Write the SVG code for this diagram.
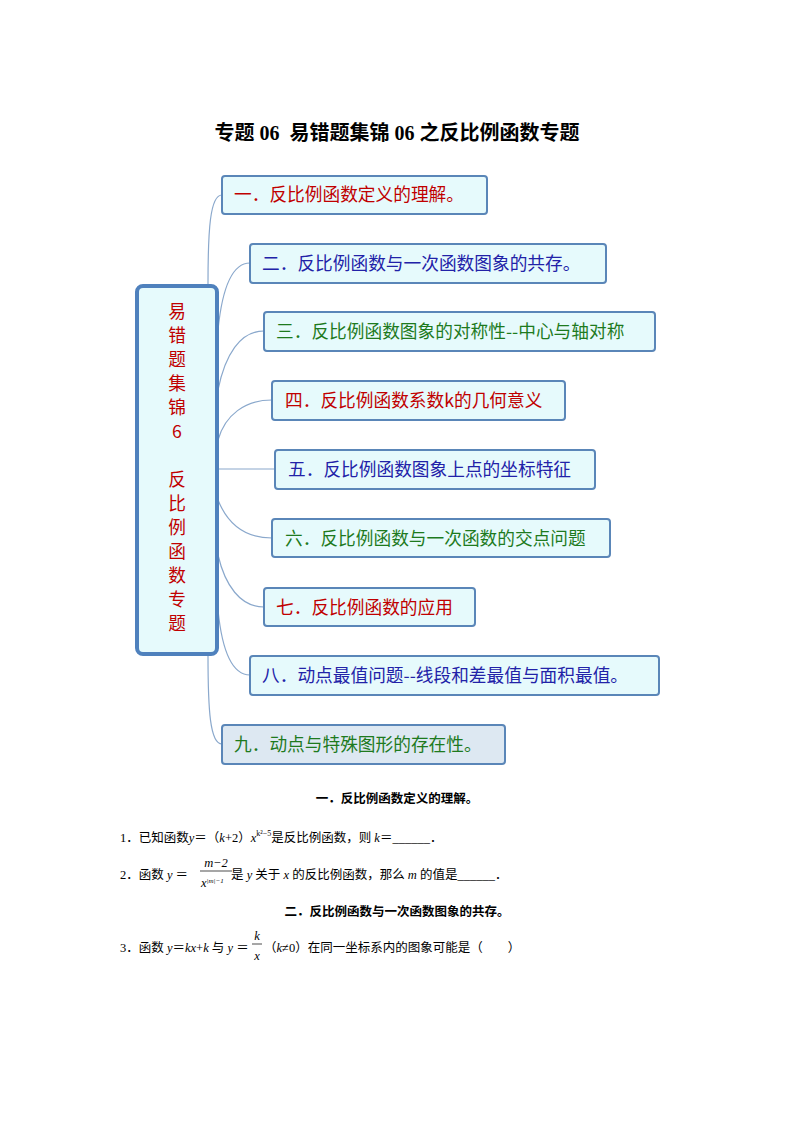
<svg xmlns="http://www.w3.org/2000/svg" width="794" height="1123" viewBox="0 0 794 1123">
<style>
.n{fill:#e6fafc;stroke:#5a86b8;stroke-width:2}
.t{font-family:"Noto Sans CJK SC","Noto Sans",sans-serif;font-size:17.7px}
.r{fill:#c00000}.b{fill:#2222a8}.g{fill:#1e7a1e}
.c{fill:none;stroke:#8aa8cc;stroke-width:1.2}
.d{font-family:"Liberation Serif","Noto Sans CJK SC",serif;font-size:12.5px;fill:#000}
.h{font-family:"Noto Sans CJK SC",sans-serif;font-size:12.5px;font-weight:bold}
</style>
<rect width="794" height="1123" fill="#fff"/>
<text x="397" y="140" text-anchor="middle" font-family="Liberation Serif,Noto Sans CJK SC,serif" font-size="20" font-weight="bold" xml:space="preserve">专题 06  易错题集锦 06 之反比例函数专题</text>
<g id="connectors">
<path class="c" d="M208 284 C208 230 210 195 222 195"/>
<path class="c" d="M218 330 C222 290 232 263 250 263"/>
<path class="c" d="M218 390 C225 355 240 331 264 331"/>
<path class="c" d="M218 440 C225 415 245 400 272 400"/>
<path class="c" d="M218 469 L275 469"/>
<path class="c" d="M218 500 C228 525 245 538 272 538"/>
<path class="c" d="M218 555 C225 585 240 607 264 607"/>
<path class="c" d="M218 610 C222 650 232 675 250 675"/>
<path class="c" d="M208 655 C208 710 210 744 222 744"/>
</g>
<g id="center"><rect x="137" y="286" width="80" height="368" rx="6" fill="#e6fafc" stroke="#4f81bd" stroke-width="4"/>
<text class="t r" text-anchor="middle"><tspan x="177" y="318">易</tspan><tspan x="177" y="342">错</tspan><tspan x="177" y="366">题</tspan><tspan x="177" y="390">集</tspan><tspan x="177" y="414">锦</tspan><tspan x="177" y="438">6</tspan><tspan x="177" y="486">反</tspan><tspan x="177" y="510">比</tspan><tspan x="177" y="534">例</tspan><tspan x="177" y="558">函</tspan><tspan x="177" y="582">数</tspan><tspan x="177" y="606">专</tspan><tspan x="177" y="630">题</tspan></text></g>
<g id="n1"><rect class="n" x="222" y="176" width="265" height="38" rx="3"/><text class="t r" x="234" y="201">一．反比例函数定义的理解。</text></g>
<g id="n2"><rect class="n" x="250" y="244" width="356" height="39" rx="3"/><text class="t b" x="262" y="270">二．反比例函数与一次函数图象的共存。</text></g>
<g id="n3"><rect class="n" x="264" y="312" width="391" height="39" rx="3"/><text class="t g" x="276" y="338">三．反比例函数图象的对称性--中心与轴对称</text></g>
<g id="n4"><rect class="n" x="272" y="381" width="293" height="39" rx="3"/><text class="t r" x="285" y="407">四．反比例函数系数k的几何意义</text></g>
<g id="n5"><rect class="n" x="275" y="450" width="320" height="39" rx="3"/><text class="t b" x="288" y="476">五．反比例函数图象上点的坐标特征</text></g>
<g id="n6"><rect class="n" x="272" y="519" width="338" height="38" rx="3"/><text class="t g" x="285" y="545">六．反比例函数与一次函数的交点问题</text></g>
<g id="n7"><rect class="n" x="264" y="588" width="211" height="38" rx="3"/><text class="t r" x="276" y="614">七．反比例函数的应用</text></g>
<g id="n8"><rect class="n" x="250" y="656" width="409" height="39" rx="3"/><text class="t b" x="262" y="682">八．动点最值问题--线段和差最值与面积最值。</text></g>
<g id="n9"><rect x="222" y="725" width="283" height="39" rx="3" fill="#dde8f2" stroke="#5a86b8" stroke-width="2"/><text class="t g" x="234" y="751">九．动点与特殊图形的存在性。</text></g>
<text class="h" x="397" y="803" text-anchor="middle">一．反比例函数定义的理解。</text>
<text class="d" x="120" y="842">1．已知函数<tspan font-style="italic">y</tspan>＝（<tspan font-style="italic">k</tspan>+2）<tspan font-style="italic">x</tspan><tspan font-size="8" dy="-6">k²−5</tspan><tspan dy="6">是反比例函数，则 </tspan><tspan font-style="italic">k</tspan>＝______．</text>
<text class="d" x="120" y="879">2．函数 <tspan font-style="italic">y</tspan> ＝</text>
<text class="d" x="216" y="867" text-anchor="middle" font-style="italic">m−2</text>
<line x1="200" y1="871" x2="232" y2="871" stroke="#000" stroke-width="0.7"/>
<text class="d" x="201" y="887" font-style="italic" font-size="10">x<tspan font-size="7" dy="-4">|m|−1</tspan></text>
<text class="d" x="231" y="879">是 <tspan font-style="italic">y</tspan> 关于 <tspan font-style="italic">x</tspan> 的反比例函数，那么 <tspan font-style="italic">m</tspan> 的值是______．</text>
<text class="h" x="397" y="916" text-anchor="middle">二．反比例函数与一次函数图象的共存。</text>
<text class="d" x="120" y="952">3．函数 <tspan font-style="italic">y</tspan>＝<tspan font-style="italic">kx</tspan>+<tspan font-style="italic">k</tspan> 与 <tspan font-style="italic">y</tspan> ＝</text>
<text class="d" x="257" y="940" font-style="italic" text-anchor="middle" font-size="10">k</text>
<line x1="252" y1="944" x2="262" y2="944" stroke="#000" stroke-width="0.7"/>
<text class="d" x="257" y="960" font-style="italic" text-anchor="middle" font-size="10">x</text>
<text class="d" x="264" y="952">（<tspan font-style="italic">k</tspan>≠0）在同一坐标系内的图象可能是（　　）</text>
</svg>
